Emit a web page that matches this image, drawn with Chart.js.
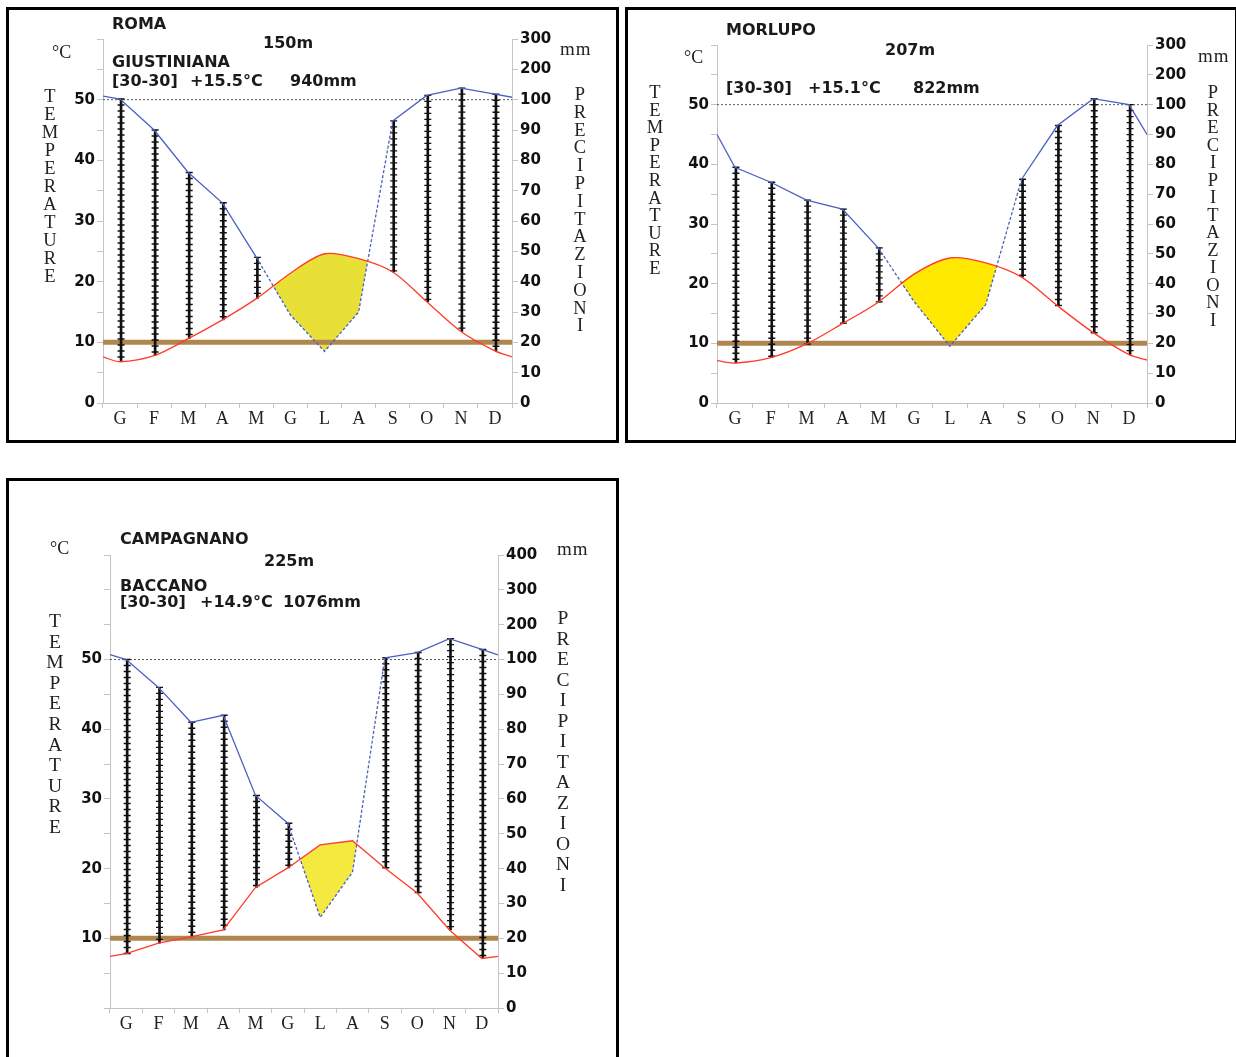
<!DOCTYPE html>
<html>
<head>
<meta charset="utf-8">
<script src="https://cdn.jsdelivr.net/npm/chart.js@4.4.1/dist/chart.umd.min.js"></script>
<style>
  body { margin: 0; width: 1236px; height: 1057px; overflow: hidden; background: #fff; position: relative; }
  .box { position: absolute; border: 3px solid #000; background: #fff; }
  .box canvas { position: absolute; left: 0; top: 0; }
  .t { position: absolute; font: bold 16px "DejaVu Sans", sans-serif; line-height: 16px; color: #1a1a1a; white-space: nowrap; z-index: 2; }
  .s { position: absolute; font: 18px "Liberation Serif", serif; line-height: 18px; color: #222; white-space: nowrap; z-index: 2; }
  .v { position: absolute; width: 30px; text-align: center; font-family: "Liberation Serif", serif; color: #222; z-index: 2; }
</style>
</head>
<body>
<script>
// months (Italian initials)
const months = ['G', 'F', 'M', 'A', 'M', 'G', 'L', 'A', 'S', 'O', 'N', 'D'];

// ROMA GIUSTINIANA
const romaTemp = [6.8, 7.8, 10.6, 13.7, 17.2, 21.4, 24.6, 23.8, 21.6, 16.7, 11.8, 8.6];
const romaPrecip = [102, 90, 76, 66, 48, 29, 17, 30, 93, 114, 138, 118];
const romaEdgeTemp = [7.6, 7.6];
const romaEdgePrecip = [112, 108];

// MORLUPO
const morlupoTemp = [6.7, 7.6, 9.9, 13.3, 16.9, 21.6, 24.3, 23.5, 21.1, 16.3, 11.8, 8.1];
const morlupoPrecip = [79, 74, 68, 65, 52, 34, 19, 33, 75, 93, 120, 100];
const morlupoEdgeTemp = [7.1, 7.2];
const morlupoEdgePrecip = [90, 90];

// CAMPAGNANO BACCANO
const campTemp = [7.8, 9.3, 10.2, 11.2, 17.3, 20.1, 23.4, 24.0, 20.1, 16.5, 11.2, 7.1];
const campPrecip = [100, 92, 82, 84, 61, 53, 26, 39, 105, 120, 160, 129];
const campEdgeTemp = [7.4, 7.4];
const campEdgePrecip = [114, 113];

// tick labels
const tempTicks = [0, 10, 20, 30, 40, 50];
const campTempTicks = [10, 20, 30, 40, 50];
const precipTicks300 = [0, 10, 20, 30, 40, 50, 60, 70, 80, 90, 100, 200, 300];
const precipTicks400 = [0, 10, 20, 30, 40, 50, 60, 70, 80, 90, 100, 200, 300, 400];

const FROST_LINE = 10;   // brown line
const PRECIP_100 = 100;  // dotted line

// Walter-Lieth: 10mm = 5°C up to 100mm, then scale /10
function toTempScale(mm) {
  return mm <= 100 ? mm / 2 : 50 + (mm - 100) / 20;
}

const AXW = 40;
const XAH = 28;

const hatchPlugin = {
  id: 'hatch',
  afterDatasetDraw(chart, args) {
    const ds = chart.data.datasets[args.index];
    if (!ds.hatch) return;
    const ctx = chart.ctx;
    ctx.save();
    ctx.strokeStyle = '#111';
    ctx.lineWidth = 1.4;
    args.meta.data.forEach((bar, i) => {
      if (ds.data[i] == null) return;
      const top = Math.min(bar.y, bar.base);
      const bottom = Math.max(bar.y, bar.base);
      ctx.beginPath();
      for (let y = top; y <= bottom + 0.5; y += 6) {
        ctx.moveTo(bar.x - 3.5, y);
        ctx.lineTo(bar.x + 3.5, y);
      }
      ctx.stroke();
    });
    ctx.restore();
  }
};

function addText(cls, x, y, txt, extra) {
  const d = document.createElement('div');
  d.className = cls;
  d.style.left = x + 'px';
  d.style.top = y + 'px';
  d.innerHTML = txt;
  if (extra) Object.assign(d.style, extra);
  document.body.appendChild(d);
}

function addVertical(cx, top, pitch, size, word) {
  addText('v', cx - 15, top - 4, word.split('').join('<br>'), {
    fontSize: size + 'px', lineHeight: pitch + 'px'
  });
}

function buildPanel(p) {
  const box = document.createElement('div');
  box.className = 'box';
  box.style.left = p.box.x + 'px';
  box.style.top = p.box.y + 'px';
  box.style.width = (p.box.w - 6) + 'px';
  box.style.height = (p.box.h - 6) + 'px';
  document.body.appendChild(box);

  const cx = p.box.x + 3, cy = p.box.y + 3;
  const cw = p.box.w - 6, ch = p.box.h - 6;
  const canvas = document.createElement('canvas');
  canvas.width = cw;
  canvas.height = ch;
  canvas.style.width = cw + 'px';
  canvas.style.height = ch + 'px';
  box.appendChild(canvas);

  const tempPts = [{ x: 0, y: p.edgeT[0] }]
    .concat(p.temp.map((v, i) => ({ x: i + 0.5, y: v })))
    .concat([{ x: 12, y: p.edgeT[1] }]);
  const precipMm = [p.edgeP[0]].concat(p.precip, [p.edgeP[1]]);
  const precipPts = precipMm.map((mm, i) => ({
    x: i === 0 ? 0 : (i === precipMm.length - 1 ? 12 : i - 0.5),
    y: toTempScale(mm)
  }));
  const humid = p.temp.map((t, i) => {
    const pt = toTempScale(p.precip[i]);
    return pt > t ? [t, pt] : null;
  });
  const arid = i => precipPts[i].y < tempPts[i].y;

  const gridBase = { drawOnChartArea: false, color: '#c4c4c4', tickLength: 6 };
  const tickFont = { family: 'DejaVu Sans', size: 15, weight: 'bold' };

  new Chart(canvas, {
    type: 'line',
    data: {
      labels: months,
      datasets: [
        {
          label: 'Temperature',
          data: tempPts,
          xAxisID: 'xd', yAxisID: 'y',
          borderColor: '#ff3b2a',
          borderWidth: 1.3,
          tension: p.tension,
          pointRadius: 0,
          fill: { target: 1, above: p.yellow, below: 'rgba(0,0,0,0)' },
          order: 1
        },
        {
          label: 'Precipitazioni',
          data: precipPts,
          xAxisID: 'xd', yAxisID: 'y',
          borderColor: '#4a5fc6',
          borderWidth: 1.3,
          pointRadius: 0,
          fill: false,
          segment: {
            borderDash: ctx => (arid(ctx.p0DataIndex) || arid(ctx.p1DataIndex)) ? [3, 2] : undefined
          },
          order: 2
        },
        {
          type: 'bar',
          label: 'humid',
          data: humid,
          hatch: true,
          xAxisID: 'x', yAxisID: 'y',
          backgroundColor: '#111',
          barThickness: 2,
          order: 3
        },
        {
          label: 'frost',
          data: [{ x: 0, y: FROST_LINE }, { x: 12, y: FROST_LINE }],
          xAxisID: 'xd', yAxisID: 'y',
          borderColor: '#b0864f',
          borderWidth: 5,
          pointRadius: 0,
          fill: false,
          order: 5
        },
        {
          label: '100mm',
          data: [{ x: 0, y: toTempScale(PRECIP_100) }, { x: 12, y: toTempScale(PRECIP_100) }],
          xAxisID: 'xd', yAxisID: 'y',
          borderColor: '#555',
          borderWidth: 1,
          borderDash: [2, 2],
          pointRadius: 0,
          fill: false,
          order: 4
        }
      ]
    },
    options: {
      responsive: false,
      animation: false,
      events: [],
      layout: {
        padding: {
          left: p.plot.l - cx - AXW,
          right: cx + cw - p.plot.r - AXW,
          top: p.plot.t - cy,
          bottom: cy + ch - p.plot.b - XAH
        }
      },
      plugins: {
        legend: { display: false },
        tooltip: { enabled: false },
        filler: { drawTime: 'beforeDatasetsDraw' }
      },
      scales: {
        x: {
          type: 'category',
          offset: true,
          grid: { drawOnChartArea: false, color: '#c4c4c4', tickLength: 5, offset: true },
          border: { color: '#c4c4c4' },
          ticks: { font: { family: 'Liberation Serif', size: 18 }, color: '#222', padding: 0, maxRotation: 0, autoSkip: false },
          afterFit: s => { s.height = XAH; }
        },
        xd: { type: 'linear', display: false, min: 0, max: 12 },
        y: {
          position: 'left',
          min: 0, max: p.yMax,
          grid: gridBase,
          border: { color: '#c4c4c4' },
          ticks: {
            stepSize: 5, autoSkip: false, font: tickFont, color: '#111', padding: 2,
            callback: v => p.tempTicks.includes(v) ? String(v) : ''
          },
          afterFit: s => { s.width = AXW; }
        },
        yr: {
          position: 'right',
          min: 0, max: p.yMax,
          grid: gridBase,
          border: { color: '#c4c4c4' },
          afterBuildTicks: s => { s.ticks = p.precipTicks.map(mm => ({ value: toTempScale(mm) })); },
          ticks: {
            autoSkip: false, font: tickFont, color: '#111', padding: 2,
            callback: (v, i) => String(p.precipTicks[i])
          },
          afterFit: s => { s.width = AXW; }
        }
      }
    },
    plugins: [hatchPlugin]
  });

  p.titles.forEach(t => addText('t', t[0], t[1], t[2]));
  addText('s', p.degC[0], p.degC[1], '&deg;C');
  addText('s', p.mm[0], p.mm[1], 'mm', { letterSpacing: '1px', fontSize: '19px' });
  addVertical(p.vTemp[0], p.vTemp[1], p.vTemp[2], p.vSize, 'TEMPERATURE');
  addVertical(p.vPrec[0], p.vPrec[1], p.vPrec[2], p.vSize, 'PRECIPITAZIONI');
}

const panels = [
  {
    box: { x: 6, y: 7, w: 613, h: 436 },
    plot: { l: 103, r: 512, t: 39, b: 403 },
    yMax: 60,
    temp: romaTemp, precip: romaPrecip, edgeT: romaEdgeTemp, edgeP: romaEdgePrecip,
    tempTicks: tempTicks, precipTicks: precipTicks300,
    yellow: '#e8e036', tension: 0.3,
    titles: [[112, 16, 'ROMA'], [263, 35, '150m'], [112, 54, 'GIUSTINIANA'],
             [112, 73, '[30-30]'], [190, 73, '+15.5&deg;C'], [290, 73, '940mm']],
    degC: [52, 43], mm: [560, 40],
    vTemp: [50, 91, 18], vPrec: [580, 90, 17.8], vSize: 18.5
  },
  {
    box: { x: 625, y: 7, w: 613, h: 436 },
    plot: { l: 717, r: 1147, t: 45, b: 403 },
    yMax: 60,
    temp: morlupoTemp, precip: morlupoPrecip, edgeT: morlupoEdgeTemp, edgeP: morlupoEdgePrecip,
    tempTicks: tempTicks, precipTicks: precipTicks300,
    yellow: '#ffe900', tension: 0.3,
    titles: [[726, 22, 'MORLUPO'], [885, 42, '207m'],
             [726, 80, '[30-30]'], [808, 80, '+15.1&deg;C'], [913, 80, '822mm']],
    degC: [684, 48], mm: [1198, 47],
    vTemp: [655, 88, 17.6], vPrec: [1213, 88, 17.5], vSize: 18.5
  },
  {
    box: { x: 6, y: 478, w: 613, h: 600 },
    plot: { l: 110, r: 498, t: 555, b: 1008 },
    yMax: 65,
    temp: campTemp, precip: campPrecip, edgeT: campEdgeTemp, edgeP: campEdgePrecip,
    tempTicks: campTempTicks, precipTicks: precipTicks400,
    yellow: '#f4e93e', tension: 0,
    titles: [[120, 531, 'CAMPAGNANO'], [264, 553, '225m'], [120, 578, 'BACCANO'],
             [120, 594, '[30-30]'], [200, 594, '+14.9&deg;C'], [283, 594, '1076mm']],
    degC: [50, 539], mm: [557, 540],
    vTemp: [55, 615, 20.6], vPrec: [563, 612, 20.5], vSize: 19.5
  }
];

panels.forEach(buildPanel);
</script>
</body>
</html>
